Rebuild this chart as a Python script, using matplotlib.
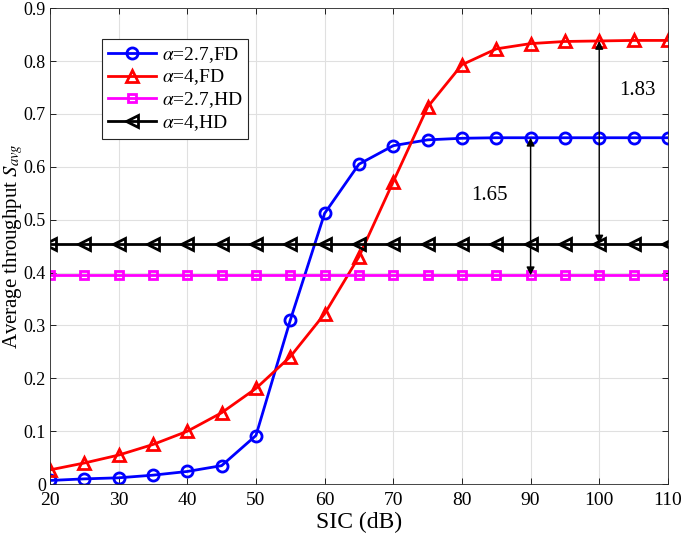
import matplotlib
matplotlib.use("Agg")
import matplotlib.pyplot as plt
import numpy as np

plt.rcParams['font.family'] = ['Liberation Serif', 'DejaVu Serif']
plt.rcParams['mathtext.fontset'] = 'stix'

sic = [20, 25, 30, 35, 40, 45, 50, 55, 60, 65, 70, 75, 80, 85, 90, 95, 100, 105, 110]
fd_27 = [0.007, 0.010, 0.012, 0.017, 0.024, 0.035, 0.092, 0.310, 0.512, 0.605, 0.640, 0.651, 0.654, 0.655, 0.655, 0.655, 0.655, 0.655, 0.655]
fd_4 = [0.027, 0.040, 0.055, 0.075, 0.100, 0.135, 0.181, 0.241, 0.322, 0.430, 0.572, 0.713, 0.793, 0.823, 0.833, 0.837, 0.838, 0.839, 0.839]
hd_27 = [0.395] * len(sic)
hd_4 = [0.455] * len(sic)
labels = [r'$\alpha$=2.7,FD', r'$\alpha$=4,FD', r'$\alpha$=2.7,HD', r'$\alpha$=4,HD']
yticks = [0, 0.1, 0.2, 0.3, 0.4, 0.5, 0.6, 0.7, 0.8, 0.9]
ytick_labels = ['0', '0.1', '0.2', '0.3', '0.4', '0.5', '0.6', '0.7', '0.8', '0.9']
xticks = [20, 30, 40, 50, 60, 70, 80, 90, 100, 110]

fig = plt.figure(figsize=(6.85, 5.44), dpi=100)
ax = fig.add_axes([0.073, 0.110, 0.902, 0.875])

ax.plot(sic, fd_27, color='#0000ff', lw=2, marker='o', ms=8, mfc='none', mew=2, label=labels[0])
ax.plot(sic, fd_4, color='#ff0000', lw=2, marker='^', ms=9, mfc='none', mew=2, label=labels[1])
ax.plot(sic, hd_27, color='#ff00ff', lw=2, marker='s', ms=6, mfc='none', mew=2, label=labels[2])
ax.plot(sic, hd_4, color='black', lw=2, marker='<', ms=8, mfc='none', mew=2, label=labels[3])

# annotations
ax.annotate('', xy=(90, hd_27[14]), xytext=(90, fd_27[14]),
            arrowprops=dict(arrowstyle='<|-|>', color='black', lw=1, mutation_scale=12, shrinkA=0, shrinkB=0))
ax.annotate('', xy=(100, hd_4[16]), xytext=(100, fd_4[16]),
            arrowprops=dict(arrowstyle='<|-|>', color='black', lw=1, mutation_scale=12, shrinkA=0, shrinkB=0))
ax.text(84, 0.546, '1.65', fontsize=15, ha='center', va='center')
ax.text(105.6, 0.745, '1.83', fontsize=15, ha='center', va='center')

ax.set_xlim(20, 110)
ax.set_ylim(0, 0.9)
ax.set_xticks(xticks)
ax.set_yticks(yticks)
ax.set_yticklabels(ytick_labels)
ax.tick_params(labelsize=14, direction='in', top=True, right=True, length=4, width=0.6, pad=6)
ax.tick_params(axis='y', labelsize=13, pad=3)
ax.grid(True, color='#e0e0e0', lw=0.8)
for s in ax.spines.values():
    s.set_linewidth(0.6)
    s.set_color('#262626')

ax.set_xlabel('SIC (dB)', fontsize=17, labelpad=2)
ax.set_ylabel(r'Average throughput $S_{avg}$', fontsize=15, va='center', ha='center')
ax.yaxis.set_label_coords(-0.060, 0.5)

leg = ax.legend(loc='upper left', bbox_to_anchor=(0.084, 0.935), fontsize=14, frameon=True,
                fancybox=False, edgecolor='#262626', framealpha=1, borderpad=0.3,
                handlelength=2.5, handletextpad=0.3, labelspacing=0.15, borderaxespad=0)
leg.get_frame().set_linewidth(0.8)

fig.savefig('out.png', dpi=100)
